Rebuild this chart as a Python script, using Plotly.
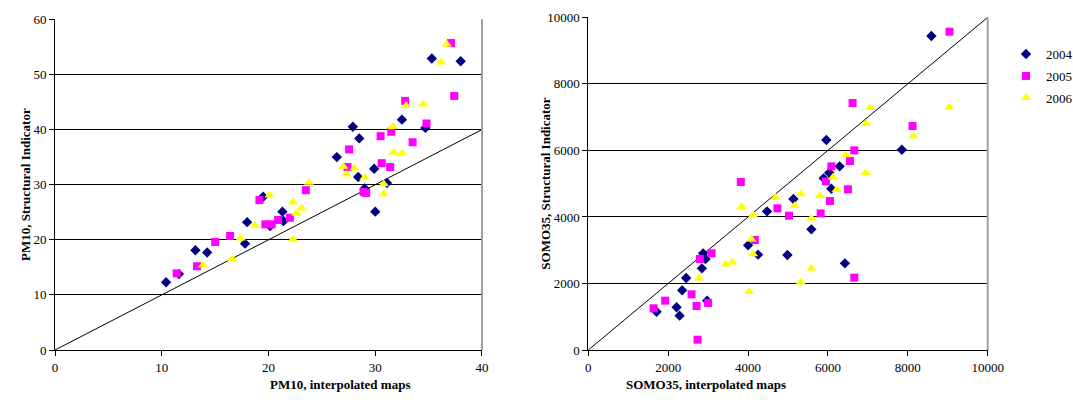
import plotly.graph_objects as go

# ---------------- PM10 (left) ----------------
pm_2004_x = [10.4, 11.6, 13.15, 14.25, 17.8, 18.0, 19.5, 20.15, 21.4, 21.3, 26.4, 27.9, 28.5, 28.4, 29.0, 30.0, 29.9, 31.1, 32.5, 34.7, 35.3, 38.0]
pm_2004_y = [12.3, 13.8, 18.1, 17.7, 19.3, 23.2, 27.8, 22.5, 23.4, 25.1, 35.0, 40.5, 38.4, 31.4, 29.3, 25.1, 32.9, 30.3, 41.8, 40.3, 52.9, 52.4]

pm_2005_x = [11.4, 13.3, 15.0, 16.4, 19.15, 19.7, 20.3, 20.9, 22.0, 23.5, 27.55, 27.4, 28.9, 29.15, 30.6, 31.4, 30.5, 31.5, 33.5, 32.8, 34.8, 37.1, 37.4]
pm_2005_y = [13.9, 15.2, 19.6, 20.7, 27.2, 22.8, 22.8, 23.6, 24.0, 29.0, 36.4, 33.2, 28.7, 28.5, 33.9, 33.2, 38.8, 39.6, 37.7, 45.2, 41.1, 55.7, 46.1]

pm_2006_x = [13.85, 17.4, 16.6, 20.1, 18.7, 22.6, 22.3, 23.1, 22.3, 23.8, 27.0, 27.3, 28.05, 29.0, 30.8, 30.8, 31.65, 31.7, 32.5, 32.9, 34.5, 36.15, 36.7]
pm_2006_y = [15.4, 20.3, 16.5, 28.1, 22.6, 24.8, 26.8, 25.7, 20.1, 30.4, 33.3, 31.9, 33.0, 31.3, 30.1, 28.3, 40.5, 35.9, 35.7, 44.3, 44.6, 52.2, 55.5]

pm_line = [0, 40]

# ---------------- SOMO35 (right) ----------------
so_2004_x = [1710, 2210, 2285, 2350, 2450, 2975, 2843, 2875, 2935, 4000, 4250, 4475, 5135, 5585, 6085, 5893, 6033, 6293, 7850, 5960, 4985, 6425, 8590]
so_2004_y = [1150, 1283, 1032, 1793, 2164, 1483, 2455, 2906, 2736, 3146, 2866, 4166, 4538, 3627, 4849, 5160, 5330, 5521, 6021, 6312, 2856, 2605, 9438]

so_2005_x = [1635, 1925, 2585, 2710, 2735, 3000, 2793, 3085, 4168, 3818, 4735, 5025, 5818, 6050, 6500, 5950, 6085, 6660, 6550, 6660, 6617, 8118, 9043]
so_2005_y = [1253, 1483, 1674, 1322, 310, 1412, 2736, 2906, 3306, 5049, 4258, 4037, 4107, 4478, 4830, 5070, 5521, 6001, 5681, 2174, 7424, 6733, 9568]

so_2006_x = [2768, 3443, 3610, 4085, 4125, 4025, 3835, 4125, 4685, 5168, 5318, 5585, 5793, 6218, 6125, 6450, 6950, 5585, 5318, 7058, 6958, 8143, 9043]
so_2006_y = [2154, 2575, 2635, 3327, 2885, 1754, 4308, 4047, 4589, 4338, 4689, 3958, 4629, 4820, 5190, 5861, 5330, 2455, 2034, 7284, 6802, 6433, 7295]

so_line = [0, 10000]

years = ["2004", "2005", "2006"]
colors = ["#000080", "#FF00FF", "#FFFF00"]
symbols = ["diamond", "square", "triangle-up"]
sizes = [8, 8, 9]

SERIF = "Liberation Serif"

fig = go.Figure()

pm_sets = [(pm_2004_x, pm_2004_y), (pm_2005_x, pm_2005_y), (pm_2006_x, pm_2006_y)]
so_sets = [(so_2004_x, so_2004_y), (so_2005_x, so_2005_y), (so_2006_x, so_2006_y)]

fig.add_trace(go.Scatter(x=pm_line, y=pm_line, mode="lines", line=dict(color="black", width=1),
                         showlegend=False, hoverinfo="skip", xaxis="x", yaxis="y"))
fig.add_trace(go.Scatter(x=so_line, y=so_line, mode="lines", line=dict(color="black", width=1),
                         showlegend=False, hoverinfo="skip", xaxis="x2", yaxis="y2"))

for i in range(3):
    fig.add_trace(go.Scatter(x=pm_sets[i][0], y=pm_sets[i][1], mode="markers", name=years[i],
                             marker=dict(color=colors[i], symbol=symbols[i], size=sizes[i], line=dict(width=0)),
                             showlegend=False, legendgroup=years[i], xaxis="x", yaxis="y", cliponaxis=False))
for i in range(3):
    fig.add_trace(go.Scatter(x=so_sets[i][0], y=so_sets[i][1], mode="markers", name=years[i],
                             marker=dict(color=colors[i], symbol=symbols[i], size=sizes[i], line=dict(width=0)),
                             showlegend=True, legendgroup=years[i], xaxis="x2", yaxis="y2", cliponaxis=False))

axis_common = dict(showline=True, linecolor="black", linewidth=1, ticks="outside", ticklen=5,
                   tickcolor="black", tickfont=dict(family=SERIF, size=13, color="black"),
                   zeroline=False, fixedrange=True, automargin=False, tickformat="d")

fig.update_layout(
    template="none",
    width=1073, height=403,
    margin=dict(l=0, r=0, t=0, b=0, pad=0, autoexpand=False),
    paper_bgcolor="white", plot_bgcolor="white",
    font=dict(family=SERIF, size=13, color="black"),
    xaxis=dict(domain=[0.0513, 0.4492], range=[0, 40], dtick=10, showgrid=False, anchor="y", **axis_common),
    yaxis=dict(domain=[0.1315, 0.952], range=[0, 60], dtick=10, showgrid=True, gridcolor="black",
               gridwidth=1, anchor="x", **axis_common),
    xaxis2=dict(domain=[0.5483, 0.9205], range=[0, 10000], dtick=2000, showgrid=False, anchor="y2", **axis_common),
    yaxis2=dict(domain=[0.1315, 0.957], range=[0, 10000], dtick=2000, showgrid=True, gridcolor="black",
                gridwidth=1, anchor="x2", **axis_common),
    legend=dict(x=0.9376, y=0.903, xanchor="left", yanchor="top", font=dict(family=SERIF, size=13),
                bgcolor="rgba(0,0,0,0)", borderwidth=0, itemwidth=30, tracegroupgap=2),
    showlegend=True,
)

# right plot-area border (gray)
for xr in ["x domain", "x2 domain"]:
    yr = "y domain" if xr == "x domain" else "y2 domain"
    fig.add_shape(type="line", xref=xr, yref=yr, x0=1, x1=1, y0=0, y1=1,
                  line=dict(color="#A0A0A0", width=2))

title_font = dict(family=SERIF, size=13, color="black", weight="bold")
fig.add_annotation(text="PM10, interpolated maps", xref="paper", yref="paper", x=0.2502, y=0.0223,
                   showarrow=False, font=title_font)
fig.add_annotation(text="SOMO35, interpolated maps", xref="paper", yref="paper", x=0.7344, y=0.0223,
                   showarrow=False, font=title_font)
fig.add_annotation(text="PM10, Structural Indicator", xref="paper", yref="paper", x=0.0149, y=0.542,
                   showarrow=False, textangle=-90, font=title_font)
fig.add_annotation(text="SOMO35, Structural Indicator", xref="paper", yref="paper", x=0.508, y=0.5445,
                   showarrow=False, textangle=-90, font=title_font)

fig.write_html("out.html")
